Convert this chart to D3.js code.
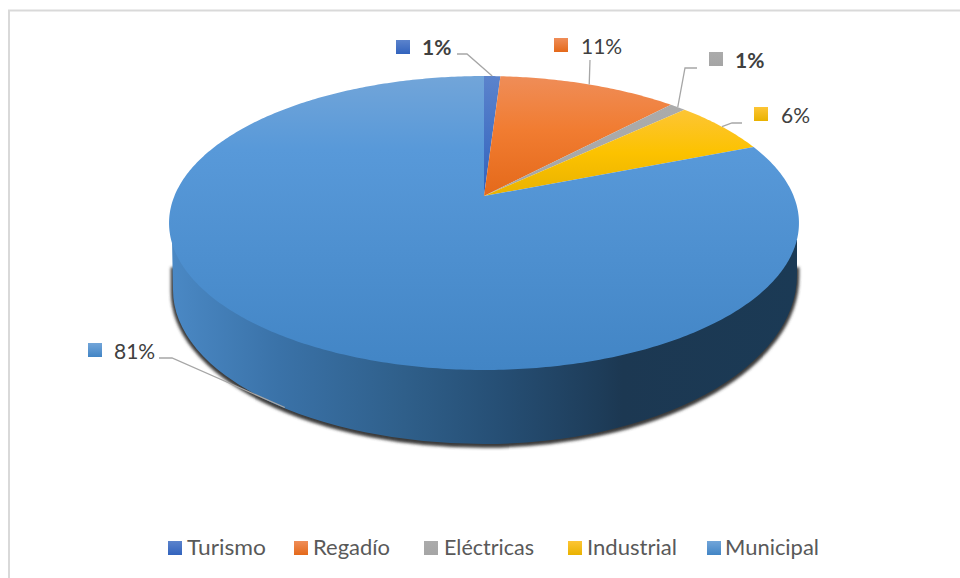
<!DOCTYPE html>
<html><head><meta charset="utf-8">
<script src="https://cdn.jsdelivr.net/npm/d3@7"></script>
<style>html,body{margin:0;padding:0;background:#fff}svg{display:block}text{font-family:Lato,"Open Sans",sans-serif}</style>
</head><body><script>
const categories = ["Turismo","Regadío","Eléctricas","Industrial","Municipal"];
const shares = [1,11,1,6,81];
const bold = [true,false,true,false,false];
const topColors = ["#5b83cc","#ef8d58","#ababab","#fdc535","#72a5d9"];
const midColors = ["#4673c5","#f17c31","#a9a9a9","#fcc200","#5899d9"];
const lowColors = ["#3263bd","#e4691a","#a5a5a5","#e9b200","#4285c5"];
const midStop = [0.5,0.45,0.5,0.5,0.25];
const legendMarkerX = [168,294,424,568,707];
const legendTextX = [187,313,444,587,725];
const legendTextW = [79,77,90,90,94];
const calloutMarker = [[396,40],[554,38],[709,52],[754,107],[88,343]];
const calloutText = [[422,47],[581,46],[735,60],[781,115],[114,351]];
const calloutKnee = [[[457,54],[467,54]],[[590,60]],[[697,68],[685,68]],[[742,123],[732,123]],[[159,358],[172,358]]];

const W=960,H=578;
const svg=d3.select("body").append("svg").attr("width",W).attr("height",H);
const defs=svg.append("defs");

// perspective view of the round pie: apex at (484,196), rim from y=76 to y=370
const cx=484,apexY=196,a=309.6,b=142,k=-0.1837,depth=73,wallLeaderShift=6;
function rim(angle){
  const u=Math.sin(angle),v=-Math.cos(angle),w=1+k*v;
  return [cx+a*u/w, apexY+b*v/w];
}
const pie=d3.pie().sort(null).value(d=>d)(shares);
const line=d3.line();

const grad=(id,x1,y1,x2,y2,stops)=>{
  const g=defs.append("linearGradient").attr("id",id).attr("gradientUnits","userSpaceOnUse")
    .attr("x1",x1).attr("y1",y1).attr("x2",x2).attr("y2",y2);
  stops.forEach(s=>g.append("stop").attr("offset",s[0]).attr("stop-color",s[1]));
};
pie.forEach((p,i)=>{
  const yTop=i==4?76:d3.min(d3.range(p.startAngle,p.endAngle,0.01).map(t=>rim(t)[1]));
  const yLow=i==4?370:apexY;
  const stops=[[0,topColors[i]],[midStop[i],midColors[i]],[1,lowColors[i]]];
  grad("slice"+i,0,yTop,0,yLow,stops);
  grad("mark"+i,0,0,0,1,[[0,topColors[i]],[1,lowColors[i]]]);
  defs.select("#mark"+i).attr("gradientUnits","objectBoundingBox");
});
grad("side",173,0,797,0,[[0,"#4a88c4"],[0.17,"#3a72a8"],[0.37,"#2f5f8a"],[0.52,"#264f75"],[0.68,"#1e3d5a"],[0.72,"#1c3852"],[1,"#1b3a55"]]);
const blur=defs.append("filter").attr("id","soft").attr("x","-5%").attr("y","-5%").attr("width","110%").attr("height","110%");
blur.append("feGaussianBlur").attr("stdDeviation",1.7);

// frame
svg.append("path").attr("d","M9,578V10.5H960").attr("fill","none").attr("stroke","#d9d9d9").attr("stroke-width",2);

// shadow + wall: left and right halves of the lower edge differ slightly
const bottomY=444,leftX=173,leftY=290,rightX=797,rightY=275;
const lowerEdge=`L${leftX},${leftY}A311,154 0 0 0 ${cx},${bottomY}A313,169 0 0 0 ${rightX},${rightY}`;
svg.append("path").attr("d",`M${leftX},268${lowerEdge}L${rightX},268Z`)
  .attr("transform","translate(0,1.5)")
  .attr("fill","#3a3a3a").attr("stroke","#3a3a3a").attr("stroke-width",4.5).attr("filter","url(#soft)");
svg.append("path").attr("d",`M172,240${lowerEdge}L${rightX},240Z`).attr("fill","url(#side)");

// top faces
svg.append("g").selectAll("path").data(pie).join("path")
  .attr("d",p=>{
    const n=Math.max(8,Math.ceil((p.endAngle-p.startAngle)*80));
    const pts=d3.range(n+1).map(j=>rim(p.startAngle+(p.endAngle-p.startAngle)*j/n));
    return line([[cx,apexY],...pts])+"Z";
  })
  .attr("fill",(p,i)=>`url(#slice${i})`);

// leaders
svg.append("g").selectAll("path").data(pie).join("path")
  .attr("d",(p,i)=>{
    const e=rim((p.startAngle+p.endAngle)/2);
    if(i==4){ e[1]+=depth; e[0]+=wallLeaderShift; }
    return line([...calloutKnee[i],e]);
  })
  .attr("fill","none").attr("stroke","#a6a6a6").attr("stroke-width",1.3);

// callouts
svg.append("g").selectAll("rect").data(pie).join("rect")
  .attr("x",(p,i)=>calloutMarker[i][0]).attr("y",(p,i)=>calloutMarker[i][1])
  .attr("width",14).attr("height",14).attr("fill",(p,i)=>`url(#mark${i})`);
svg.append("g").selectAll("text").data(pie).join("text")
  .attr("x",(p,i)=>calloutText[i][0]).attr("y",(p,i)=>calloutText[i][1]+7.5)
  .attr("font-size",21).attr("font-weight",(p,i)=>bold[i]?700:400).attr("fill","#404040")
  .text(p=>p.data+"%");

// legend
const leg=svg.append("g").selectAll("g").data(categories).join("g");
leg.append("rect").attr("x",(d,i)=>legendMarkerX[i]).attr("y",541).attr("width",14).attr("height",14)
  .attr("fill",(d,i)=>`url(#mark${i})`);
leg.append("text").attr("x",(d,i)=>legendTextX[i]).attr("y",555).attr("font-size",21).attr("fill","#595959")
  .attr("textLength",(d,i)=>legendTextW[i]).attr("lengthAdjust","spacingAndGlyphs").text(d=>d);
</script></body></html>
